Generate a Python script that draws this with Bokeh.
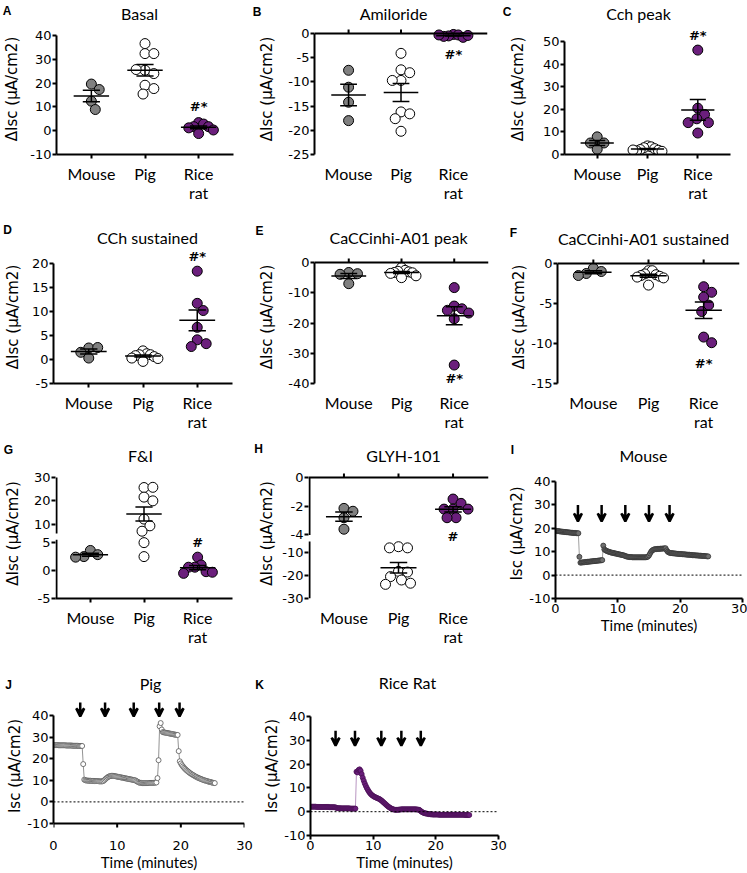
import numpy as np
from bokeh.plotting import figure
from bokeh.models import Range1d, FixedTicker, LinearAxis, Label, Span, Arrow, VeeHead
from bokeh.layouts import column, row
from bokeh.embed import file_html
from bokeh.resources import INLINE

# ---------------------------------------------------------------- data
SPECIES = ["Mouse", "Pig", "Rice rat"]
SPECIES_FILL = ["#808080", "#ffffff", "#6b1f7c"]

PANEL_LETTERS = ["A", "B", "C", "D", "E", "F", "G", "H", "I", "J", "K"]
PANEL_TITLES = ["Basal", "Amiloride", "Cch peak", "CCh sustained", "CaCCinhi-A01 peak",
                "CaCCinhi-A01 sustained", "F&I", "GLYH-101", "Mouse", "Pig", "Rice Rat"]

basal_mouse = [19.6, 17.3, 12.4, 8.9]
basal_pig = [36.6, 32.4, 32.4, 25.4, 24.0, 25.7, 19.1, 17.7, 15.4]
basal_ricerat = [3.4, 2.8, 1.7, 1.7, 1.2, 0.3, -1.2]

amiloride_mouse = [-7.6, -11.1, -14.2, -18.0]
amiloride_pig = [-4.1, -7.5, -8.1, -9.7, -9.7, -16.2, -16.6, -17.6, -20.2]
amiloride_ricerat = [-0.2, -0.3, -0.5, -0.8, -0.6, -0.4, -0.3]

cch_peak_mouse = [7.8, 5.1, 5.1, 2.3]
cch_peak_pig = [3.8, 3.4, 3.0, 2.6, 2.2, 1.9, 1.6, 1.4, 2.0]
cch_peak_ricerat = [46.2, 20.5, 17.7, 15.8, 14.1, 14.1, 9.5]

cch_sust_mouse = [2.4, 2.5, 1.5, 0.3]
cch_sust_pig = [1.8, 1.2, 1.0, 1.0, 0.8, 0.6, 0.3, -0.4, 0.2]
cch_sust_ricerat = [18.4, 11.7, 10.2, 6.7, 4.1, 3.3, 2.7]

a01_peak_mouse = [-3.3, -3.7, -3.9, -7.0]
a01_peak_pig = [-1.7, -2.6, -2.9, -3.1, -3.3, -3.4, -3.6, -4.4, -5.0]
a01_peak_ricerat = [-8.3, -14.4, -15.3, -15.8, -16.7, -18.6, -33.9]

a01_sust_mouse = [-0.6, -1.0, -1.25, -1.5]
a01_sust_pig = [-0.9, -0.9, -1.3, -1.4, -1.5, -1.6, -1.7, -1.8, -2.7]
a01_sust_ricerat = [-2.9, -3.6, -4.2, -5.2, -6.0, -9.2, -9.9]

fi_mouse = [3.6, 2.85, 2.5, 2.4]
fi_pig = [25.7, 25.8, 21.6, 20.0, 12.2, 9.3, 7.0, 5.0, 2.5]
fi_ricerat = [2.4, 1.0, 0.6, 0.6, -0.2, -0.5, -0.3]

glyh_mouse = [-2.15, -2.35, -2.8, -3.6]
glyh_pig = [-7.3, -7.8, -7.8, -18.1, -18.4, -20.4, -21.9, -23.3, -23.8]
glyh_ricerat = [-1.5, -1.8, -2.2, -2.2, -2.2, -2.8, -2.8]

ticks_basal = [-10, 0, 10, 20, 30, 40]
ticks_amiloride = [-25, -20, -15, -10, -5, 0]
ticks_cch_peak = [0, 10, 20, 30, 40, 50]
ticks_cch_sust = [-5, 0, 5, 10, 15, 20]
ticks_a01_peak = [-40, -30, -20, -10, 0]
ticks_a01_sust = [-15, -10, -5, 0]
ticks_fi = [-5, 0, 5, 10, 20, 30]
ticks_glyh = [-30, -20, -10, -4, -2, 0]
ticks_trace_y = [-10, 0, 10, 20, 30, 40]
ticks_time = [0, 10, 20, 30]

SAMPLE_MIN = 1.0 / 6.0   # one reading every 10 s

mouse_trace_isc = [
    18.9, 18.9, 18.8, 18.8, 18.7, 18.6, 18.6, 18.5, 18.5, 18.4,
    18.4, 18.3, 18.3, 18.2, 18.2, 18.1, 18.1, 18.0, 18.0, 18.0,
    17.9, 17.9, 17.9, 7.8, 5.3, 5.4, 5.4, 5.5, 5.5, 5.6,
    5.6, 5.7, 5.7, 5.8, 5.8, 5.9, 5.9, 6.0, 6.0, 6.1,
    6.1, 6.2, 6.2, 6.3, 6.3, 6.4, 12.6, 11.0, 10.6, 10.4,
    10.2, 10.0, 9.9, 9.7, 9.6, 9.5, 9.4, 9.3, 9.2, 9.1,
    9.0, 8.9, 8.8, 8.7, 8.6, 8.5, 8.4, 8.2, 8.0, 7.9,
    7.8, 7.7, 7.7, 7.7, 7.6, 7.6, 7.6, 7.6, 7.6, 7.6,
    7.6, 7.6, 7.6, 7.6, 7.6, 7.6, 7.6, 7.6, 7.7, 7.9,
    8.4, 9.2, 10.0, 10.5, 10.8, 11.0, 11.1, 11.1, 11.2, 11.2,
    11.2, 11.3, 11.3, 11.3, 11.4, 11.4, 11.5, 10.6, 10.0, 9.7,
    9.5, 9.4, 9.4, 9.3, 9.3, 9.2, 9.2, 9.1, 9.1, 9.0,
    9.0, 9.0, 8.9, 8.9, 8.9, 8.8, 8.8, 8.7, 8.7, 8.7,
    8.6, 8.6, 8.5, 8.5, 8.5, 8.4, 8.4, 8.4, 8.3, 8.3,
    8.3, 8.2, 8.2, 8.2, 8.1, 8.1, 8.0, 8.0]

pig_trace_isc = [
    26.3, 26.3, 26.3, 26.3, 26.3, 26.2, 26.2, 26.2, 26.2, 26.2,
    26.2, 26.2, 26.1, 26.1, 26.1, 26.1, 26.1, 26.1, 26.0, 26.0,
    26.0, 26.0, 26.0, 26.0, 25.9, 25.9, 25.9, 25.9, 17.5, 10.3,
    10.0, 9.9, 9.9, 9.8, 9.8, 9.8, 9.7, 9.7, 9.7, 9.6,
    9.6, 9.6, 9.6, 9.5, 9.5, 9.5, 9.5, 9.7, 10.1, 10.6,
    11.0, 11.4, 11.7, 11.9, 12.0, 12.1, 12.1, 12.0, 11.9, 11.8,
    11.7, 11.6, 11.5, 11.4, 11.3, 11.2, 11.1, 11.0, 10.9, 10.8,
    10.7, 10.6, 10.5, 10.4, 10.3, 10.2, 10.1, 10.0, 9.7, 9.4,
    9.1, 8.9, 8.8, 8.8, 8.7, 8.7, 8.7, 8.7, 8.7, 8.7,
    8.7, 8.8, 8.8, 8.8, 8.8, 8.9, 8.9, 9.0, 11.0, 19.3,
    35.0, 36.5, 33.5, 32.3, 32.2, 32.1, 32.0, 31.9, 31.8, 31.7,
    31.6, 31.5, 31.4, 31.3, 31.2, 31.1, 31.0, 31.0, 23.5, 18.8,
    17.8, 17.0, 16.4, 15.8, 15.3, 14.8, 14.4, 14.0, 13.6, 13.2,
    12.9, 12.6, 12.3, 12.0, 11.7, 11.5, 11.2, 11.0, 10.8, 10.6,
    10.4, 10.2, 10.0, 9.9, 9.7, 9.6, 9.4, 9.3, 9.2, 9.0,
    8.9, 8.8, 8.7]

ricerat_trace_isc = [
    2.1, 2.1, 2.1, 2.1, 2.1, 2.1, 2.0, 2.0, 2.0, 2.0,
    2.0, 2.0, 2.0, 2.0, 2.0, 2.0, 2.0, 2.0, 1.9, 1.9,
    1.9, 1.9, 1.9, 1.9, 1.8, 1.6, 1.5, 1.5, 1.5, 1.4,
    1.4, 1.4, 1.4, 1.4, 1.4, 1.4, 1.4, 1.4, 1.3, 1.3,
    1.3, 1.3, 1.3, 1.3, 16.8, 16.5, 17.5, 17.8, 17.2, 15.8,
    14.3, 13.0, 11.8, 10.8, 9.9, 9.1, 8.4, 7.8, 7.3, 6.9,
    6.6, 6.3, 6.1, 5.9, 5.7, 5.5, 5.3, 5.0, 4.7, 4.3,
    3.9, 3.5, 3.1, 2.7, 2.3, 2.0, 1.7, 1.4, 1.2, 1.0,
    0.9, 0.8, 0.8, 0.8, 0.8, 0.9, 0.9, 1.0, 1.0, 1.0,
    1.0, 1.0, 1.0, 1.0, 1.0, 1.0, 1.0, 1.0, 1.0, 1.0,
    1.0, 1.0, 0.9, 0.9, 0.8, 0.5, 0.1, -0.2, -0.4, -0.6,
    -0.7, -0.8, -0.9, -1.0, -1.0, -1.1, -1.1, -1.2, -1.2, -1.2,
    -1.2, -1.2, -1.2, -1.3, -1.3, -1.3, -1.3, -1.3, -1.3, -1.3,
    -1.3, -1.3, -1.3, -1.3, -1.3, -1.3, -1.3, -1.3, -1.3, -1.3,
    -1.3, -1.3, -1.3, -1.3, -1.3, -1.3, -1.3, -1.3, -1.4, -1.4,
    -1.4, -1.4, -1.4]

arrows_mouse_min = [3.6, 7.4, 11.2, 15.0, 18.3]
arrows_pig_min = [4.2, 8.1, 12.6, 16.6, 19.8]
arrows_ricerat_min = [4.0, 7.1, 11.3, 14.5, 17.6]

# ---------------------------------------------------------------- style / layout
FONT_NUM = "DejaVu Sans"
FONT_TXT = "Lato"
FONT_LET = "Liberation Sans"
PAGE_W = 747


def disp_fi(v):      # broken axis of F&I: compressed upper segment
    return v if v <= 5.5 else 8.3 + (v - 10) * 0.418


def disp_glyh(v):    # broken axis of GLYH-101: compressed lower segment
    return v if v >= -4.2 else -5.247 + (v + 10) * 0.1588


def ident(v):
    return v


# heading strips and plot rows: (page top, height); every frame of a row spans the row
HEADS = [(0, 23), (207, 43), (436, 32), (664, 32)]
ROWS = [(23, 184), (250, 186), (468, 196), (696, 177)]
ROW_FRAME_BOTTOM = [154, 383, 598, 835]
# (row, fig left, fig width, frame left, frame right, (top value, top px, bottom value, bottom px), axis standoff)
GEOM = [
    (0, 0, 255, 53, 233, (40, 35, -10, 154), 6),
    (0, 255, 250, 308, 487, (0, 33, -25, 154), 9),
    (0, 505, 242, 558, 730, (50, 41, 0, 154), 13),
    (1, 0, 255, 52, 232, (20, 263, -5, 383), 7),
    (1, 255, 250, 308, 488, (0, 262, -40, 383), 9),
    (1, 505, 242, 557, 739, (0, 263, -15, 383), 0),
    (2, 0, 255, 52, 232, (disp_fi(30), 477, -5, 598), 9),
    (2, 255, 250, 308, 488, (0, 477, disp_glyh(-30), 598), 3),
    (2, 505, 242, 552, 742, (40, 481, -10, 598), 0),
    (3, 0, 260, 53, 244, (40, 715, -10, 823), 0),
    (3, 260, 250, 307, 498, (40, 716, -10, 835), 0),
]
LETTER_POS = [(6.5, 10.5), (256.5, 11.5), (506.5, 11.5), (7, 229.5), (259, 230), (513, 232),
              (8, 449), (258, 448), (512, 449), (8, 684), (259, 684)]
TITLE_POS = [(139, 13), (393, 13), (638, 13), (147, 237), (398, 237), (643, 238),
             (140, 455), (403, 455), (643, 455), (150, 683), (407, 682)]
ROW_PANELS = [[0, 1, 2], [3, 4, 5], [6, 7, 8], [9, 10]]


def make_fig(i, xr):
    r, fx, fw, x0, x1, (vt, pt, vb, pb), als = GEOM[i]
    ry, rh = ROWS[r]
    fb = ROW_FRAME_BOTTOM[r]
    ppy = (pb - pt) / (vt - vb)
    yr_plot = (vb - (fb - pb) / ppy, vt + (pt - ry) / ppy)
    p = figure(width=fw, height=rh, output_backend="svg", toolbar_location=None,
               x_range=Range1d(*xr), y_range=Range1d(*yr_plot),
               x_axis_location=None, y_axis_location=None,
               min_border_left=x0 - fx, min_border_right=fx + fw - x1,
               min_border_top=0, min_border_bottom=ry + rh - fb)
    p.grid.visible = False
    p.outline_line_color = None
    p.background_fill_color = "white"
    p.border_fill_color = "white"
    geo = dict(ppx=(x1 - x0) / (xr[1] - xr[0]), ppy=ppy, bounds=(vb, vt), als=als, xr=xr)
    return p, geo


def add_label(p, x, y, text, font, size, bold=False):
    p.add_layout(Label(x=x, y=y, text=text, text_font=font, text_font_size=f"{size}px",
                       text_font_style="bold" if bold else "normal", text_color="black",
                       text_align="center", text_baseline="middle"))


def make_heading(r):
    hy, hh = HEADS[r]
    p = figure(width=PAGE_W, height=hh, output_backend="svg", toolbar_location=None,
               x_range=Range1d(0, PAGE_W), y_range=Range1d(hh, 0),
               x_axis_location=None, y_axis_location=None, min_border=0)
    p.grid.visible = False
    p.outline_line_color = None
    p.background_fill_color = "white"
    p.border_fill_color = "white"
    for i in ROW_PANELS[r]:
        lx, ly = LETTER_POS[i]
        add_label(p, lx, ly - hy, PANEL_LETTERS[i], FONT_LET, 12, bold=True)
        tx, ty = TITLE_POS[i]
        add_label(p, tx, ty - hy, PANEL_TITLES[i], FONT_TXT, 16)
    return p


def style_axis(ax):
    ax.axis_line_width = 2
    ax.axis_line_color = "black"
    ax.major_tick_line_width = 2
    ax.major_tick_line_color = "black"
    ax.major_tick_out = 4
    ax.major_tick_in = 0
    ax.minor_tick_line_color = None
    ax.major_label_text_font = FONT_NUM
    ax.major_label_text_font_size = "13px"
    ax.major_label_text_color = "black"
    ax.major_label_standoff = 1
    ax.axis_label_text_font_style = "normal"
    ax.axis_label_text_color = "black"


def add_y_axis(p, geo, ticks, disp=ident, label="\u0394Isc (\u03bcA/cm2)", line=True):
    pos = [disp(v) for v in ticks]
    ax = LinearAxis(ticker=FixedTicker(ticks=pos), axis_label=label, bounds=geo["bounds"])
    style_axis(ax)
    ax.major_label_overrides = {pp: f"{v:g}" for pp, v in zip(pos, ticks)}
    ax.axis_label_text_font = FONT_NUM
    ax.axis_label_text_font_size = "15px"
    ax.axis_label_standoff = geo["als"]
    if not line:
        ax.axis_line_color = None
    p.add_layout(ax, "left")


def add_cat_axis(p, line=True):
    ax = LinearAxis(ticker=FixedTicker(ticks=[1, 2, 3]))
    style_axis(ax)
    ax.major_label_overrides = {k + 1: s.replace(" ", "\n") for k, s in enumerate(SPECIES)}
    ax.major_label_text_font = FONT_TXT
    ax.major_label_text_font_size = "16px"
    ax.major_label_standoff = 5
    ax.major_label_text_line_height = 1.0
    if not line:
        ax.axis_line_color = None
        ax.major_tick_line_color = None
    p.add_layout(ax, "below")


def add_top_axis(p, geo, ticks, at):
    # x axis crossing at y = `at`, drawn across the whole frame width, ticks pointing up
    p.add_layout(Span(location=at, dimension="width", line_color="black", line_width=2))
    up = 4.0 / geo["ppy"]
    p.segment(x0=ticks, x1=ticks, y0=[at] * len(ticks), y1=[at + up] * len(ticks),
              line_color="black", line_width=2)


def add_bottom_rule(p, geo, ticks, at):
    p.add_layout(Span(location=at, dimension="width", line_color="black", line_width=2))
    dn = 4.0 / geo["ppy"]
    p.segment(x0=ticks, x1=ticks, y0=[at] * len(ticks), y1=[at - dn] * len(ticks),
              line_color="black", line_width=2)


def swarm(vals, ppx, ppy, diam=10.0, maxhalf=15.0):
    placed, offs = [], []
    for v in vals:
        yp = v * ppy
        k = 0
        found = None
        while found is None:
            cands = [0.0] if k == 0 else [float(k), -float(k)]
            for c in cands:
                if all((c - a) ** 2 + (yp - b) ** 2 >= (0.9 * diam) ** 2 for a, b in placed):
                    found = c
                    break
            k += 1
        placed.append((found, yp))
        offs.append(found)
    m = max(abs(o) for o in offs)
    if m > maxhalf:
        offs = [o * maxhalf / m for o in offs]
    return [o / ppx for o in offs]


XR_CAT = (0.35, 3.65)

DOT_PANELS = [
    dict(groups=[basal_mouse, basal_pig, basal_ricerat], ticks=ticks_basal, top=False, sig="#*", sig_y=10.0),
    dict(groups=[amiloride_mouse, amiloride_pig, amiloride_ricerat], ticks=ticks_amiloride, top=True,
         sig="#*", sig_y=-4.3),
    dict(groups=[cch_peak_mouse, cch_peak_pig, cch_peak_ricerat], ticks=ticks_cch_peak, top=False,
         sig="#*", sig_y=52.8),
    dict(groups=[cch_sust_mouse, cch_sust_pig, cch_sust_ricerat], ticks=ticks_cch_sust, top=False,
         sig="#*", sig_y=21.4),
    dict(groups=[a01_peak_mouse, a01_peak_pig, a01_peak_ricerat], ticks=ticks_a01_peak, top=True,
         sig="#*", sig_y=-38.3),
    dict(groups=[a01_sust_mouse, a01_sust_pig, a01_sust_ricerat], ticks=ticks_a01_sust, top=True,
         sig="#*", sig_y=-12.5),
    dict(groups=[fi_mouse, fi_pig, fi_ricerat], ticks=ticks_fi, top=False, sig="#", sig_y=5.0,
         disp=disp_fi, segs=[(-5, 5.5), (disp_fi(6.0), disp_fi(30))]),
    dict(groups=[glyh_mouse, glyh_pig, glyh_ricerat], ticks=ticks_glyh, top=True, sig="#", sig_y=-4.14,
         disp=disp_glyh, segs=[(-4.0, 0.0), (disp_glyh(-30), disp_glyh(-5.0))]),
]

figs = []
for i, cfg in enumerate(DOT_PANELS):
    disp = cfg.get("disp", ident)
    p, geo = make_fig(i, XR_CAT)
    ppx, ppy = geo["ppx"], geo["ppy"]
    segs = cfg.get("segs")
    add_y_axis(p, geo, cfg["ticks"], disp=disp, line=segs is None)
    if segs:
        xa = XR_CAT[0] + 1.0 / ppx
        p.segment(x0=[xa] * len(segs), x1=[xa] * len(segs), y0=[s[0] for s in segs],
                  y1=[s[1] for s in segs], line_color="black", line_width=2)
    if cfg["top"]:
        add_top_axis(p, geo, [1, 2, 3], 0)
        add_cat_axis(p, line=False)
    else:
        add_cat_axis(p)
    for g, vals in enumerate(cfg["groups"]):
        c = g + 1
        dv = [disp(v) for v in vals]
        offs = swarm(dv, ppx, ppy)
        p.scatter([c + o for o in offs], dv, size=10, fill_color=SPECIES_FILL[g],
                  line_color="black", line_width=1)
        m = float(np.mean(vals))
        se = float(np.std(vals, ddof=1) / np.sqrt(len(vals)))
        lo, mid, hi = disp(m - se), disp(m), disp(m + se)
        p.segment(x0=[c - 0.33, c, c - 0.16, c - 0.16], x1=[c + 0.33, c, c + 0.16, c + 0.16],
                  y0=[mid, lo, lo, hi], y1=[mid, hi, lo, hi], line_color="black", line_width=1.5)
    add_label(p, 3, cfg["sig_y"], cfg["sig"], FONT_NUM, 13, bold=True)
    figs.append(p)

TRACES = [
    dict(vals=mouse_trace_isc, arrows=arrows_mouse_min, arrow_y=(30.0, 22.9), fill="#707070",
         edge="#333333", line="#888888", std=1, rule=False),
    dict(vals=pig_trace_isc, arrows=arrows_pig_min, arrow_y=(46.0, 39.6), fill="#ffffff",
         edge="#555555", line="#777777", std=1, rule=True),
    dict(vals=ricerat_trace_isc, arrows=arrows_ricerat_min, arrow_y=(34.0, 27.7), fill="#6a1d7a",
         edge="#4a1056", line="#a77bb3", std=1, rule=False),
]

for j, cfg in enumerate(TRACES):
    i = 8 + j
    p, geo = make_fig(i, (0, 30))
    add_y_axis(p, geo, ticks_trace_y, label="Isc (\u03bcA/cm2)")
    ax = LinearAxis(ticker=FixedTicker(ticks=ticks_time), axis_label="Time (minutes)")
    style_axis(ax)
    ax.major_label_standoff = cfg["std"]
    ax.axis_label_text_font = FONT_TXT
    ax.axis_label_text_font_size = "15px"
    ax.axis_label_standoff = 0
    if cfg["rule"]:
        # x axis crosses at the bottom of the y axis, above the tick labels
        ax.axis_line_color = None
        ax.major_tick_line_color = None
        add_bottom_rule(p, geo, ticks_time, -10)
    p.add_layout(ax, "below")
    p.add_layout(Span(location=0, dimension="width", line_color="black", line_width=1,
                      line_dash="2 2"))
    t = [k * SAMPLE_MIN for k in range(len(cfg["vals"]))]
    p.line(t, cfg["vals"], line_color=cfg["line"], line_width=0.8)
    p.scatter(t, cfg["vals"], size=5, fill_color=cfg["fill"], line_color=cfg["edge"], line_width=0.8)
    for ta in cfg["arrows"]:
        p.add_layout(Arrow(end=VeeHead(size=8, line_width=2.5, line_color="black"),
                           x_start=ta, x_end=ta, y_start=cfg["arrow_y"][0], y_end=cfg["arrow_y"][1],
                           line_width=2.5, line_color="black"))
    figs.append(p)

layout = column(make_heading(0), row(figs[0], figs[1], figs[2]),
                make_heading(1), row(figs[3], figs[4], figs[5]),
                make_heading(2), row(figs[6], figs[7], figs[8]),
                make_heading(3), row(figs[9], figs[10]))

open("out.html", "w").write(file_html(layout, INLINE))
